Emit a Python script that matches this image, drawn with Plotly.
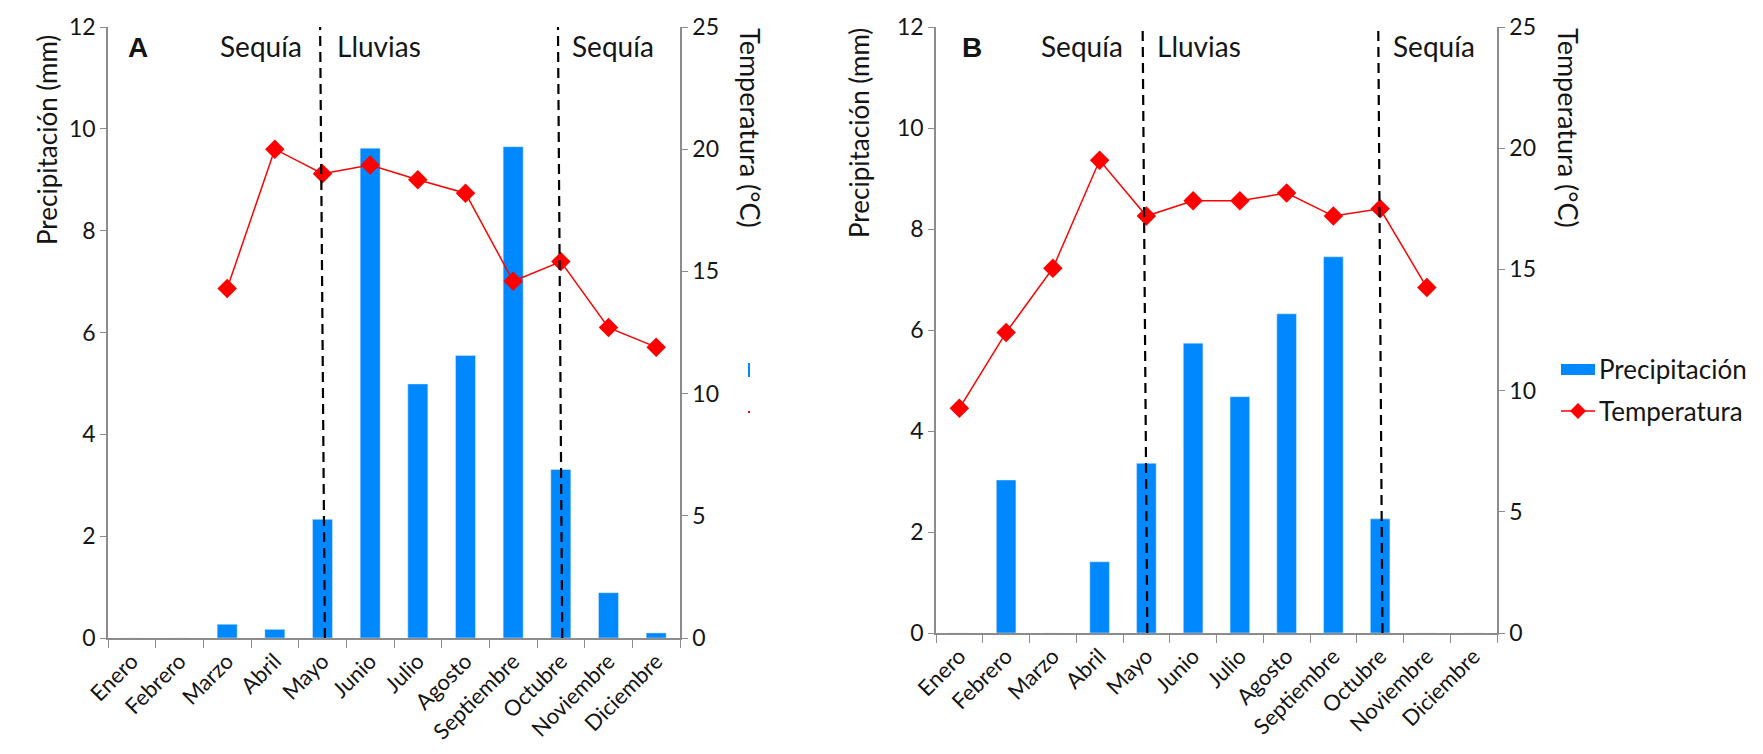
import plotly.graph_objects as go

W, H = 1763, 754

months = ["Enero", "Febrero", "Marzo", "Abril", "Mayo", "Junio", "Julio",
          "Agosto", "Septiembre", "Octubre", "Noviembre", "Diciembre"]

# Panel A
precip_A = [0, 0, 0.27, 0.17, 2.33, 9.62, 4.99, 5.55, 9.65, 3.31, 0.89, 0.10]
temp_A = [None, None, 14.3, 20.0, 19.0, 19.35, 18.75, 18.2, 14.6, 15.4, 12.7, 11.9]

# Panel B
precip_B = [0, 3.03, 0, 1.41, 3.36, 5.74, 4.68, 6.32, 7.45, 2.26, 0, 0]
temp_B = [9.27, 12.4, 15.05, 19.5, 17.2, 17.83, 17.83, 18.15, 17.2, 17.5, 14.25, None]

# season boundaries (category index, top -> bottom)
bounds_A = [(3.95, 4.05), (8.94, 9.03)]
bounds_B = [(3.92, 4.02), (8.96, 9.05)]

FONT = "Lato"
BLUE = "#0088FF"
RED = "#FF0000"
AX = "#8c8c8c"
TXT = "#151515"

def px(x):
    return x / W

def py(y):
    return 1 - y / H

fig = go.Figure()

fig.add_trace(go.Bar(x=months, y=precip_A, marker_color=BLUE, width=0.42,
                     xaxis="x", yaxis="y", showlegend=False, name="Precipitación"))
fig.add_trace(go.Scatter(x=months, y=temp_A, mode="lines+markers",
                         line=dict(color=RED, width=1.5),
                         marker=dict(symbol="diamond", size=15, color=RED),
                         xaxis="x", yaxis="y2", showlegend=False, name="Temperatura"))
fig.add_trace(go.Bar(x=months, y=precip_B, marker_color=BLUE, width=0.42,
                     xaxis="x2", yaxis="y3", showlegend=False, name="Precipitación"))
fig.add_trace(go.Scatter(x=months, y=temp_B, mode="lines+markers",
                         line=dict(color=RED, width=1.5),
                         marker=dict(symbol="diamond", size=15, color=RED),
                         xaxis="x2", yaxis="y4", showlegend=False, name="Temperatura"))

ydomA = [py(630), py(19)]
ydomB = [py(625), py(19)]
xdomA = [px(100), px(672)]
xdomB = [px(928), px(1489)]

tickfont = dict(family=FONT, size=23, color=TXT)
xcommon = dict(type="category", range=[-0.5, 11.5], showline=True, linecolor=AX,
               linewidth=1.5, ticks="outside", ticklen=8, tickcolor=AX,
               tickson="boundaries", tickangle=-45, automargin=False,
               tickfont=dict(family=FONT, size=22, color=TXT),
               showgrid=False, zeroline=False, fixedrange=True)
yleft = dict(range=[0, 12], dtick=2, showline=True, linecolor=AX, linewidth=1.5,
             ticks="outside", ticklen=6, tickcolor=AX, tickfont=tickfont,
             automargin=False, showgrid=False, zeroline=False)
yright = dict(range=[0, 25], dtick=5, showline=True, linecolor=AX, linewidth=1.5,
              ticks="outside", ticklen=6, tickcolor=AX, tickfont=tickfont,
              automargin=False, showgrid=False, zeroline=False, side="right")

fig.update_layout(
    width=W, height=H, autosize=False,
    margin=dict(l=0, r=0, t=0, b=0, pad=0),
    paper_bgcolor="white", plot_bgcolor="white",
    font=dict(family=FONT, color=TXT),
    showlegend=False,
    xaxis=dict(domain=xdomA, anchor="y", **xcommon),
    yaxis=dict(anchor="x", domain=ydomA, **yleft),
    yaxis2=dict(anchor="x", overlaying="y", **yright),
    xaxis2=dict(domain=xdomB, anchor="y3", **xcommon),
    yaxis3=dict(anchor="x2", domain=ydomB, **yleft),
    yaxis4=dict(anchor="x2", overlaying="y3", **yright),
)

DASH = "10px,6px"
shapes = []
for (t, b) in bounds_A:
    shapes.append(dict(type="line", xref="x", yref="y domain", x0=b, x1=t, y0=0, y1=1,
                       line=dict(color="black", width=2.2, dash=DASH)))
for (t, b) in bounds_B:
    shapes.append(dict(type="line", xref="x2", yref="y3 domain", x0=b, x1=t, y0=0, y1=1,
                       line=dict(color="black", width=2.2, dash=DASH)))

# legend (drawn manually)
def prect(x0, y0, x1, y1, color):
    return dict(type="rect", xref="paper", yref="paper", x0=px(x0), x1=px(x1),
                y0=py(y1), y1=py(y0), fillcolor=color, line=dict(width=0))

LX0, LX1 = 1553, 1587
shapes.append(prect(LX0, 356, LX1, 367, BLUE))
shapes.append(dict(type="line", xref="paper", yref="paper", x0=px(LX0), x1=px(LX1),
                   y0=py(403), y1=py(403), line=dict(color=RED, width=1.5)))
cx, cy, r = (LX0 + LX1) / 2, 403, 8
shapes.append(dict(type="path", xref="paper", yref="paper",
                   path=f"M {px(cx)} {py(cy - r)} L {px(cx + r)} {py(cy)} L {px(cx)} {py(cy + r)} L {px(cx - r)} {py(cy)} Z",
                   fillcolor=RED, line=dict(width=0)))
# clipped legend remnant of panel A
shapes.append(prect(740, 355, 742, 369, BLUE))
shapes.append(prect(740, 403, 742, 405, RED))

fig.update_layout(shapes=shapes)

ann = []
def text(x, y, s, size=28, angle=0, family=FONT, xanchor="center"):
    ann.append(dict(x=px(x), y=py(y), xref="paper", yref="paper", text=s,
                    showarrow=False, textangle=angle,
                    font=dict(family=family, size=size, color=TXT),
                    xanchor=xanchor, yanchor="middle"))

text(130, 40, "<b>A</b>", size=28, family="Liberation Sans")
text(253, 38, "Sequía")
text(371, 38, "Lluvias")
text(605, 38, "Sequía")
text(964, 40, "<b>B</b>", size=28, family="Liberation Sans")
text(1074, 38, "Sequía")
text(1191, 38, "Lluvias")
text(1426, 38, "Sequía")

text(39, 132, "Precipitación (mm)", size=26, angle=-90)
text(743, 120, "Temperatura (°C)", size=27, angle=90)
text(851, 125, "Precipitación (mm)", size=26, angle=-90)
text(1561, 120, "Temperatura (°C)", size=27, angle=90)

text(1589, 361, "Precipitación", size=26, xanchor="left")
text(1589, 403, "Temperatura", size=26, xanchor="left")

fig.update_layout(annotations=ann)

fig.write_html("out.html")
